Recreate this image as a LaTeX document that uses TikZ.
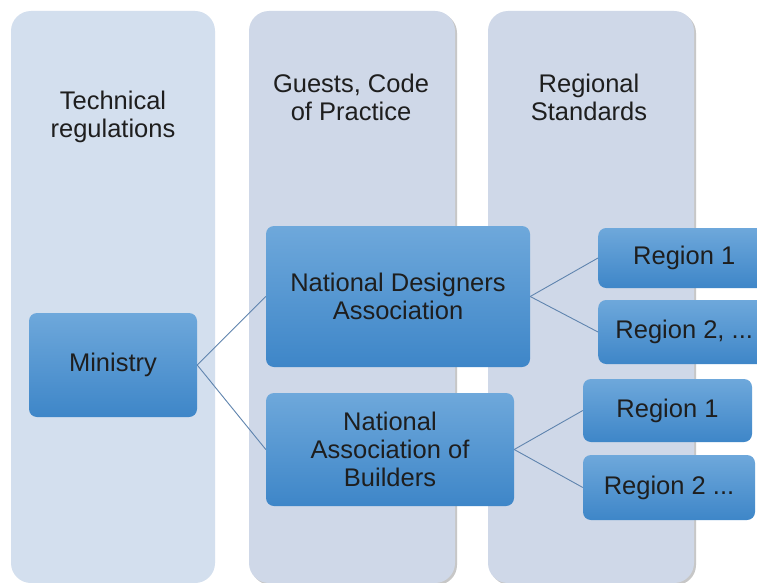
\documentclass[tikz,border=0pt]{standalone}
\usepackage{fontspec}
\setmainfont{Liberation Sans}
\definecolor{colA}{HTML}{D3DFEE}
\definecolor{colB}{HTML}{CFD8E8}
\definecolor{boxtop}{HTML}{6EA8DB}
\definecolor{boxbot}{HTML}{3E86C8}
\definecolor{linkc}{HTML}{5F84AE}
\definecolor{txt}{HTML}{1E1E1E}
\begin{document}
\begin{tikzpicture}[x=1pt,y=-1pt,
  colbox/.style={rounded corners=20pt},
  header/.style={align=center,text=txt,font=\fontsize{25.5}{28}\selectfont},
  bluebox/.style={rounded corners=8pt,top color=boxtop,bottom color=boxbot,draw=none,
    align=center,text=txt,font=\fontsize{25.5}{28}\selectfont,inner sep=0pt},
  link/.style={draw=linkc,line width=0.9pt}]
\useasboundingbox (0,0) rectangle (757,583);
\fill[white] (0,0) rectangle (757,583);
% columns
\fill[colA,colbox] (11,11) rectangle (215,583);
\fill[black!22,colbox] (251,13) rectangle (457,585);
\fill[colB,colbox] (249,11) rectangle (455,583);
\fill[black!22,colbox] (490,13) rectangle (696,585);
\fill[colB,colbox] (488,11) rectangle (694,583);
% headers
\node[header] (h1) at (113,117) {Technical\\regulations};
\node[header] (h2) at (351,97) {Guests, Code\\of Practice};
\node[header] (h3) at (589,97) {Regional\\Standards};
% boxes
\node[bluebox,minimum width=168pt,minimum height=104pt] (min) at (113,365) {Ministry};
\node[bluebox,minimum width=264pt,minimum height=141pt] (nda) at (398,296.5) {National Designers\\Association};
\node[bluebox,minimum width=248pt,minimum height=113pt] (nab) at (390,449.5) {National\\Association of\\Builders};
\node[bluebox,minimum width=172pt,minimum height=60pt,anchor=west] (r11) at (598,258) {Region 1};
\node[bluebox,minimum width=172pt,minimum height=64pt,anchor=west] (r12) at (598,332) {Region 2, ...};
\node[bluebox,minimum width=169pt,minimum height=63pt] (r21) at (667.5,410.5) {Region 1};
\node[bluebox,minimum width=172pt,minimum height=65pt] (r22) at (669,487.5) {Region 2 ...};
% links
\draw[link] (min.east) -- (nda.west);
\draw[link] (min.east) -- (nab.west);
\draw[link] (nda.east) -- (r11.west);
\draw[link] (nda.east) -- (r12.west);
\draw[link] (nab.east) -- (r21.west);
\draw[link] (nab.east) -- (r22.west);
\end{tikzpicture}
\end{document}
